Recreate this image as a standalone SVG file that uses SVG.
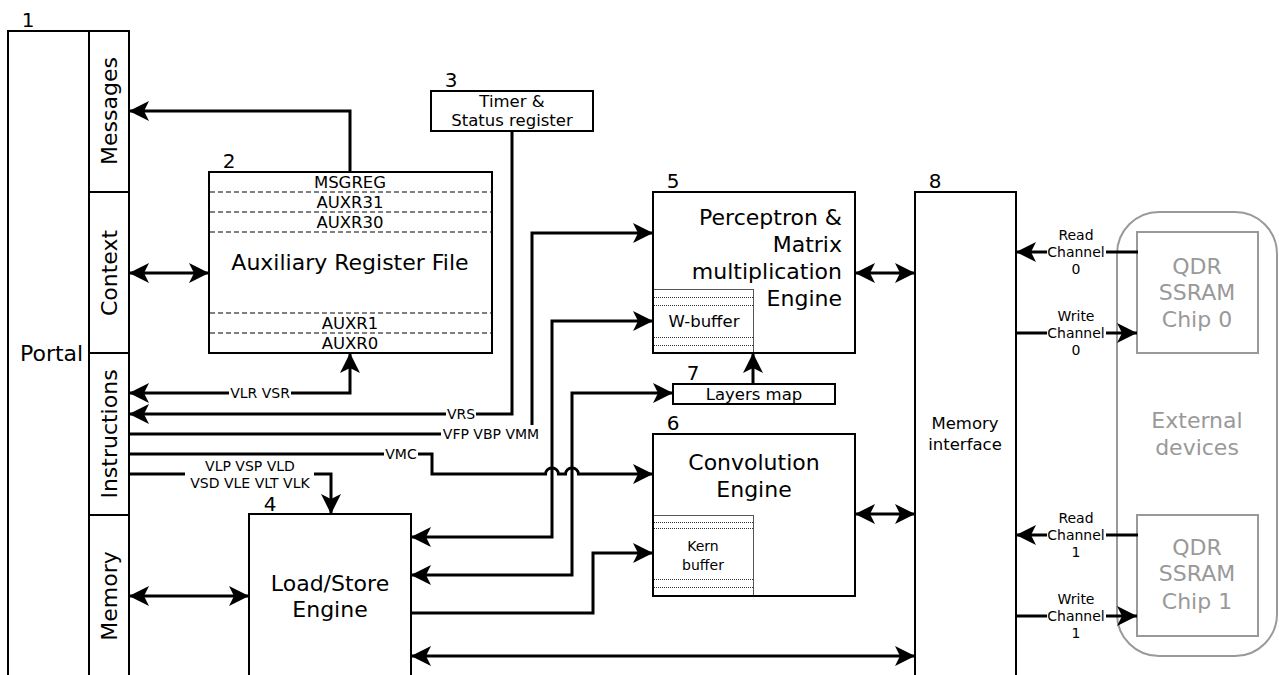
<svg xmlns="http://www.w3.org/2000/svg" width="1279" height="675" viewBox="0 0 1279 675">
  <style>
    text { font-family: "DejaVu Sans", Verdana, "Liberation Sans", sans-serif; fill: #000; }
    .box { fill: #fff; stroke: #000; stroke-width: 2; }
    .buf { fill: #fff; stroke: #555; stroke-width: 1; }
    .dash { stroke: #000; stroke-width: 1; stroke-dasharray: 5 3; }
    .dot { stroke: #333; stroke-width: 1; stroke-dasharray: 1 1; }
    .wire { fill: none; stroke: #000; stroke-width: 3; }
    .bg { fill: #fff; }
    .num { font-size: 20px; text-anchor: middle; }
    .big { font-size: 22px; text-anchor: middle; }
    .reg { font-size: 16.5px; text-anchor: middle; }
    .sig { font-size: 14px; text-anchor: middle; }
    .ext { fill: none; stroke: #999; stroke-width: 2; }
    .extt { font-size: 22px; text-anchor: middle; fill: #999; }
  </style>
  <defs>
    <marker id="ah" viewBox="0 0 20 20" refX="20" refY="10" markerWidth="20" markerHeight="20" markerUnits="userSpaceOnUse" orient="auto-start-reverse">
      <path d="M0,0 L20,10 L0,20 L5,10 Z" fill="#000"/>
    </marker>
  </defs>

  <!-- 1: Portal -->
  <g id="portal">
    <rect class="box" x="8" y="31" width="121" height="680"/>
    <line x1="89" y1="31" x2="89" y2="711" stroke="#000" stroke-width="2"/>
    <line x1="89" y1="192" x2="129" y2="192" stroke="#000" stroke-width="2"/>
    <line x1="89" y1="353" x2="129" y2="353" stroke="#000" stroke-width="2"/>
    <line x1="89" y1="515" x2="129" y2="515" stroke="#000" stroke-width="2"/>
    <text class="num" x="28" y="27">1</text>
    <text x="20" y="361" font-size="22px">Portal</text>
    <text class="big" transform="translate(109,111) rotate(-90)" dy="0.35em">Messages</text>
    <text class="big" transform="translate(109,273) rotate(-90)" dy="0.35em">Context</text>
    <text class="big" transform="translate(109,434) rotate(-90)" dy="0.35em">Instructions</text>
    <text class="big" transform="translate(109,596) rotate(-90)" dy="0.35em">Memory</text>
  </g>

  <!-- 2: Auxiliary register file -->
  <g id="aux">
    <rect class="box" x="209" y="172" width="283" height="181"/>
    <line class="dash" x1="210" y1="192" x2="491" y2="192"/>
    <line class="dash" x1="210" y1="212" x2="491" y2="212"/>
    <line class="dash" x1="210" y1="232" x2="491" y2="232"/>
    <line class="dash" x1="210" y1="313" x2="491" y2="313"/>
    <line class="dash" x1="210" y1="333" x2="491" y2="333"/>
    <text class="num" x="229" y="168">2</text>
    <text class="reg" x="350" y="188">MSGREG</text>
    <text class="reg" x="350" y="208">AUXR31</text>
    <text class="reg" x="350" y="228">AUXR30</text>
    <text class="big" x="350" y="270">Auxiliary Register File</text>
    <text class="reg" x="350" y="329">AUXR1</text>
    <text class="reg" x="350" y="349">AUXR0</text>
  </g>

  <!-- 3: Timer & status register -->
  <g id="timer">
    <rect class="box" x="431" y="91" width="162" height="40"/>
    <text class="num" x="451" y="87">3</text>
    <text class="reg" x="512" y="107" font-size="17.5px">Timer &amp;</text>
    <text class="reg" x="512" y="126" font-size="17.5px">Status register</text>
  </g>

  <!-- 4: Load/Store engine -->
  <g id="loadstore">
    <rect class="box" x="249" y="514" width="162" height="200"/>
    <text class="num" x="270" y="511">4</text>
    <text class="big" x="330" y="591">Load/Store</text>
    <text class="big" x="330" y="617">Engine</text>
  </g>

  <!-- 5: Perceptron & matrix multiplication engine -->
  <g id="perceptron">
    <rect class="box" x="653" y="192" width="202" height="161"/>
    <rect class="buf" x="653.5" y="289.5" width="100" height="63"/>
    <line class="dot" x1="654" y1="297.5" x2="753" y2="297.5"/>
    <line class="dot" x1="654" y1="305.5" x2="753" y2="305.5"/>
    <line class="dot" x1="654" y1="337.5" x2="753" y2="337.5"/>
    <line class="dot" x1="654" y1="345.5" x2="753" y2="345.5"/>
    <rect x="653" y="192" width="202" height="161" fill="none" stroke="#000" stroke-width="2"/>
    <text class="num" x="673" y="188">5</text>
    <text x="842" y="225" font-size="22px" text-anchor="end">Perceptron &amp;</text>
    <text x="842" y="252" font-size="22px" text-anchor="end">Matrix</text>
    <text x="842" y="279" font-size="22px" text-anchor="end">multiplication</text>
    <text x="842" y="306" font-size="22px" text-anchor="end">Engine</text>
    <text class="reg" x="704" y="327">W-buffer</text>
  </g>

  <!-- 6: Convolution engine -->
  <g id="convolution">
    <rect class="box" x="653" y="434" width="202" height="162"/>
    <rect class="buf" x="653.5" y="515.5" width="100" height="80"/>
    <line class="dot" x1="654" y1="522.5" x2="753" y2="522.5"/>
    <line class="dot" x1="654" y1="528.5" x2="753" y2="528.5"/>
    <line class="dot" x1="654" y1="579.5" x2="753" y2="579.5"/>
    <line class="dot" x1="654" y1="587.5" x2="753" y2="587.5"/>
    <rect x="653" y="434" width="202" height="162" fill="none" stroke="#000" stroke-width="2"/>
    <text class="num" x="673" y="430">6</text>
    <text class="big" x="754" y="470">Convolution</text>
    <text class="big" x="754" y="497">Engine</text>
    <text class="sig" x="703" y="551">Kern</text>
    <text class="sig" x="703" y="570">buffer</text>
  </g>

  <!-- 7: Layers map -->
  <g id="layersmap">
    <rect class="box" x="673" y="384" width="162" height="20"/>
    <text class="num" x="693" y="380">7</text>
    <text class="reg" x="754" y="400">Layers map</text>
  </g>

  <!-- 8: Memory interface -->
  <g id="meminterface">
    <rect class="box" x="915" y="192" width="101" height="500"/>
    <text class="num" x="935" y="188">8</text>
    <text class="reg" x="965" y="429">Memory</text>
    <text class="reg" x="965" y="450">interface</text>
  </g>

  <!-- External devices -->
  <g id="external">
    <rect class="ext" x="1117" y="212" width="160" height="444" rx="42" ry="42"/>
    <text class="extt" x="1197" y="428">External</text>
    <text class="extt" x="1197" y="455">devices</text>
  </g>
  <g id="chip0">
    <rect class="ext" x="1137" y="232" width="121" height="121"/>
    <text class="extt" x="1197" y="274">QDR</text>
    <text class="extt" x="1197" y="300">SSRAM</text>
    <text class="extt" x="1197" y="327">Chip 0</text>
  </g>
  <g id="chip1">
    <rect class="ext" x="1137" y="515" width="121" height="121"/>
    <text class="extt" x="1197" y="555">QDR</text>
    <text class="extt" x="1197" y="581">SSRAM</text>
    <text class="extt" x="1197" y="609">Chip 1</text>
  </g>

  <!-- Connectors -->
  <g id="connectors">
    <path class="wire" d="M350,172 V111 H129" marker-end="url(#ah)"/>
    <path class="wire" d="M129,273 H209" marker-start="url(#ah)" marker-end="url(#ah)"/>
    <path class="wire" d="M350,353 V393 H129" marker-start="url(#ah)" marker-end="url(#ah)"/>
    <path class="wire" d="M512,131 V414 H129" marker-end="url(#ah)"/>
    <path class="wire" d="M129,434 H532 V233 H653" marker-end="url(#ah)"/>
    <path class="wire" d="M129,454 H432 V474 H545.5 A6.5,6 0 0 1 558.5,474 H565.5 A6.5,6 0 0 1 578.5,474 H653" marker-end="url(#ah)"/>
    <path class="wire" d="M129,474 H331 V514" marker-end="url(#ah)"/>
    <path class="wire" d="M411,537 H552 V321 H653" marker-start="url(#ah)" marker-end="url(#ah)"/>
    <path class="wire" d="M411,575 H572 V393 H673" marker-start="url(#ah)" marker-end="url(#ah)"/>
    <path class="wire" d="M411,613 H593 V553 H653" marker-end="url(#ah)"/>
    <path class="wire" d="M753,384 V353" marker-end="url(#ah)"/>
    <path class="wire" d="M855,273 H915" marker-start="url(#ah)" marker-end="url(#ah)"/>
    <path class="wire" d="M855,514 H915" marker-start="url(#ah)" marker-end="url(#ah)"/>
    <path class="wire" d="M411,656 H915" marker-start="url(#ah)" marker-end="url(#ah)"/>
    <path class="wire" d="M129,596 H249" marker-start="url(#ah)" marker-end="url(#ah)"/>
    <path class="wire" d="M1138,252 H1016" marker-end="url(#ah)"/>
    <path class="wire" d="M1016,333 H1137" marker-end="url(#ah)"/>
    <path class="wire" d="M1138,535 H1016" marker-end="url(#ah)"/>
    <path class="wire" d="M1016,616 H1137" marker-end="url(#ah)"/>

    <!-- signal labels -->
    <rect class="bg" x="229" y="385" width="62" height="16"/>
    <text class="sig" x="260" y="398">VLR VSR</text>
    <rect class="bg" x="446" y="406" width="30" height="16"/>
    <text class="sig" x="461" y="419">VRS</text>
    <rect class="bg" x="441" y="425" width="100" height="17"/>
    <text class="sig" x="491" y="439">VFP VBP VMM</text>
    <rect class="bg" x="384" y="446" width="34" height="16"/>
    <text class="sig" x="401" y="459">VMC</text>
    <rect class="bg" x="185" y="459" width="129" height="32"/>
    <text class="sig" x="250" y="471">VLP VSP VLD</text>
    <text class="sig" x="250" y="488">VSD VLE VLT VLK</text>

    <rect class="bg" x="1047" y="244" width="59" height="16"/>
    <text class="sig" x="1076" y="240">Read</text>
    <text class="sig" x="1076" y="257">Channel</text>
    <text class="sig" x="1076" y="274">0</text>
    <rect class="bg" x="1047" y="325" width="59" height="16"/>
    <text class="sig" x="1076" y="321">Write</text>
    <text class="sig" x="1076" y="338">Channel</text>
    <text class="sig" x="1076" y="355">0</text>
    <rect class="bg" x="1047" y="527" width="59" height="16"/>
    <text class="sig" x="1076" y="523">Read</text>
    <text class="sig" x="1076" y="540">Channel</text>
    <text class="sig" x="1076" y="557">1</text>
    <rect class="bg" x="1047" y="608" width="59" height="16"/>
    <text class="sig" x="1076" y="604">Write</text>
    <text class="sig" x="1076" y="621">Channel</text>
    <text class="sig" x="1076" y="638">1</text>
  </g>
</svg>
